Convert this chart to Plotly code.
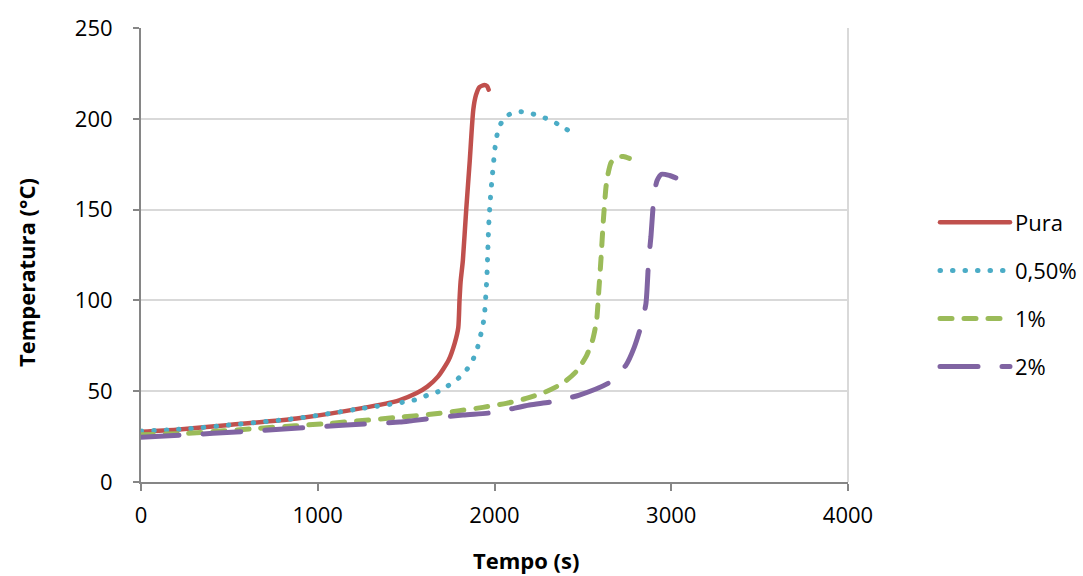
import plotly.graph_objects as go

# ---- data ----
pura_t = [0, 200, 500, 880, 1250, 1460, 1560, 1620, 1680, 1740, 1775, 1795, 1802, 1808, 1821, 1840, 1860, 1880, 1895, 1915, 1943, 1958, 1967]
pura_T = [27.7, 28.8, 31.4, 35.0, 40.7, 45.0, 49.0, 52.5, 58.0, 67.0, 76.5, 85.0, 100.0, 110.0, 122.0, 150.0, 177.0, 205.0, 213.0, 217.5, 218.6, 218.0, 216.0]

p050_t = [0, 250, 500, 880, 1250, 1500, 1560, 1623, 1680, 1735, 1788, 1836, 1873, 1900, 1918, 1934, 1944, 1949, 1957, 1962, 1967, 1975, 1987, 1994, 2000, 2009, 2024, 2058, 2115, 2179, 2239, 2301, 2358, 2415]
p050_T = [28.0, 29.2, 31.4, 35.0, 40.5, 44.2, 45.5, 47.9, 49.7, 52.9, 56.5, 61.0, 66.3, 72.7, 79.5, 86.0, 92.9, 99.9, 113.0, 126.8, 140.6, 154.0, 168.0, 175.0, 181.6, 188.3, 194.8, 200.8, 203.7, 203.7, 202.0, 199.9, 197.1, 193.8]

p1_t = [0, 258, 672, 1068, 1444, 1651, 1802, 1934, 2066, 2179, 2291, 2386, 2461, 2518, 2555, 2578, 2589, 2602, 2616, 2631, 2641, 2660, 2697, 2730, 2763]
p1_T = [26.0, 26.8, 29.6, 32.3, 35.5, 37.4, 39.3, 41.1, 43.3, 46.0, 49.7, 54.4, 60.7, 69.0, 78.2, 89.2, 103.9, 122.0, 144.3, 162.6, 169.0, 176.0, 179.0, 179.2, 178.2]

p2_t = [0, 408, 785, 1162, 1463, 1538, 1821, 1990, 2198, 2329, 2480, 2650, 2744, 2790, 2828, 2857, 2872, 2885, 2904, 2920, 2945, 2990, 3026]
p2_T = [24.6, 26.8, 29.0, 31.4, 33.0, 33.8, 36.9, 38.2, 42.4, 44.2, 47.9, 54.8, 64.4, 74.0, 85.5, 98.4, 122.2, 135.0, 159.0, 166.0, 169.5, 168.8, 167.5]

series_names = ["Pura", "0,50%", "1%", "2%"]
x_ticks = [0, 1000, 2000, 3000, 4000]
y_ticks = [0, 50, 100, 150, 200, 250]

colors = ["#C0504D", "#4BACC6", "#9BBB59", "#8064A2"]
dashes = ["solid", "0.5px,12px", "12px,12px", "38px,24px"]
widths = [4.5, 5, 5, 5]

FONT = "Open Sans"

fig = go.Figure()
for i, (t, T) in enumerate([(pura_t, pura_T), (p050_t, p050_T), (p1_t, p1_T), (p2_t, p2_T)]):
    fig.add_trace(go.Scatter(
        x=t, y=T, mode="lines", name=series_names[i],
        legendgroup=series_names[i],
        line=dict(color=colors[i], width=widths[i], dash=dashes[i], shape="spline", smoothing=0.6),
    ))

fig.update_layout(
    width=1083, height=576,
    margin=dict(l=141, r=235, t=28, b=94),
    paper_bgcolor="white", plot_bgcolor="white",
    font=dict(family=FONT, size=22, color="black"),
    showlegend=True,
    legend=dict(xref="container", yref="container",
                x=935 / 1083, y=1 - 201.5 / 576, xanchor="left", yanchor="top",
                traceorder="grouped", tracegroupgap=16.5, itemwidth=70,
                font=dict(family=FONT, size=22, color="black"),
                bgcolor="rgba(0,0,0,0)"),
    xaxis=dict(range=[0, 4000], tickvals=x_ticks, ticktext=[str(v) for v in x_ticks],
               showgrid=False, zeroline=False, showline=True, linecolor="#868686", linewidth=2,
               ticks="outside", ticklen=7, tickwidth=2, tickcolor="#868686",
               ticklabelstandoff=6, tickfont=dict(family=FONT, size=22, color="black")),
    yaxis=dict(range=[0, 250], tickvals=y_ticks, ticktext=[str(v) for v in y_ticks],
               showgrid=True, gridcolor="#D9D9D9", gridwidth=2, zeroline=False,
               showline=True, linecolor="#868686", linewidth=2,
               ticks="outside", ticklen=6, tickwidth=2, tickcolor="#868686",
               ticklabelstandoff=16, tickfont=dict(family=FONT, size=22, color="black")),
    shapes=[dict(type="line", xref="paper", yref="paper", x0=1, x1=1, y0=0, y1=1,
                 line=dict(color="#D9D9D9", width=2), layer="below")],
    annotations=[
        dict(text="<b>Tempo (s)</b>", xref="paper", yref="paper", x=(526 - 141) / 707, y=-(560 - 482) / 454,
             showarrow=False, xanchor="center", yanchor="middle", font=dict(family=FONT, size=22, color="black")),
        dict(text="<b>Temperatura (°C)</b>", xref="paper", yref="paper", x=-(141 - 26) / 707, y=(482 - 273) / 454,
             showarrow=False, xanchor="center", yanchor="middle", textangle=-90,
             font=dict(family=FONT, size=22, color="black")),
    ],
)

post = """
var gd = document.getElementById('{plot_id}');
function fixCaps(){
  document.querySelectorAll('.js-line, .legendlines path').forEach(function(p){
    p.style.strokeLinecap = 'round'; p.style.strokeLinejoin = 'round';
  });
}
fixCaps();
gd.on('plotly_afterplot', fixCaps);
"""
fig.write_html("out.html", post_script=post)
